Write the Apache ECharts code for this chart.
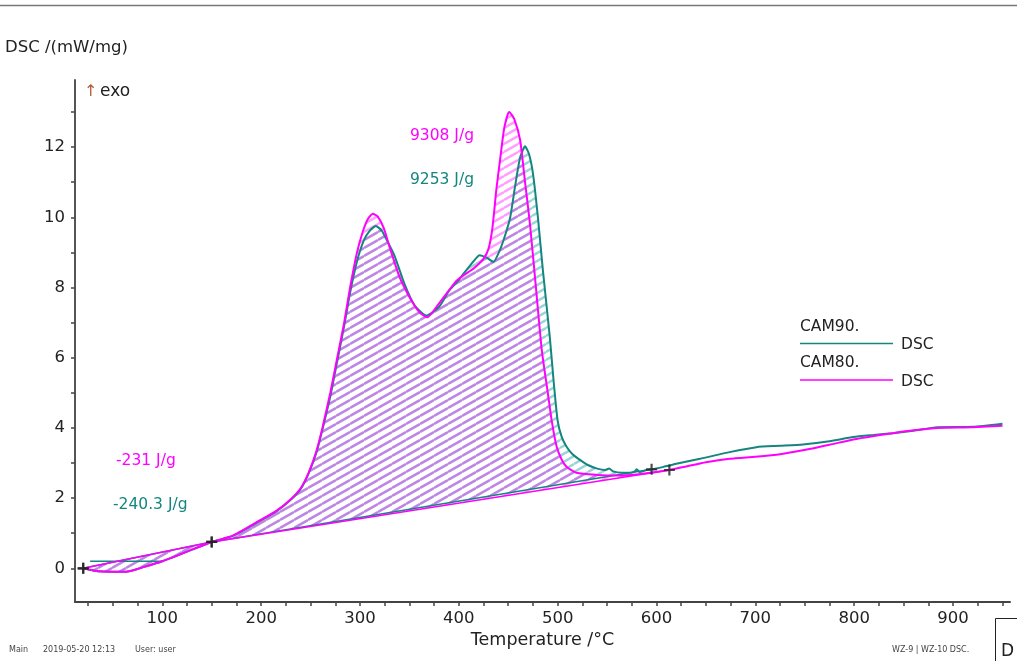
<!DOCTYPE html>
<html>
<head>
<meta charset="utf-8">
<script src="https://cdn.jsdelivr.net/npm/echarts@6/dist/echarts.min.js"></script>
<style>
  html, body { margin: 0; padding: 0; background: #fff; }
  #chart { width: 1017px; height: 661px; }
</style>
</head>
<body>
<div id="chart"></div>
<script>
// CAM80 (magenta) DSC curve, temperature /°C and DSC /(mW/mg)
const t80 = [20, 30, 40, 55, 65, 75, 85, 100, 115, 130, 150, 172, 199, 215, 230, 240, 248, 256, 262, 270, 277, 284,
  290, 297, 303, 308, 313, 318, 324, 330, 340, 350, 360, 368, 380, 390, 398, 405, 415, 425, 430, 434, 438, 442,
  446, 451, 456, 462, 467, 472, 478, 484, 490, 494, 499, 504, 509, 519, 540, 560, 580, 600, 613, 630,
  650, 674, 700, 725, 748, 775, 799, 820, 839, 860, 884, 920, 950];
const dsc80 = [0, -0.06, -0.09, -0.1, -0.09, -0.02, 0.07, 0.2, 0.36, 0.53, 0.75, 0.94, 1.37, 1.63, 1.97, 2.28, 2.72, 3.35, 4.0, 5.0, 6.0, 7.0,
  8.0, 9.0, 9.6, 9.95, 10.1, 10.02, 9.7, 9.15, 8.3, 7.73, 7.3, 7.15, 7.55, 7.92, 8.2, 8.35, 8.54, 8.82, 9.1, 9.7, 10.8, 11.7,
  12.55, 13.0, 12.8, 12.2, 11.0, 9.8, 8.0, 6.2, 5.0, 4.2, 3.46, 3.1, 2.89, 2.72, 2.66, 2.64, 2.67, 2.74, 2.8, 2.9,
  3.02, 3.12, 3.18, 3.25, 3.36, 3.52, 3.67, 3.77, 3.85, 3.93, 4.0, 4.02, 4.06];

// CAM90 (teal) DSC curve
const t90 = [20, 30, 40, 55, 65, 75, 85, 100, 115, 130, 150, 172, 199, 215, 230, 240, 248, 256, 262, 270, 277, 284,
  290, 297, 304, 310, 316, 322, 328, 335, 345, 355, 367, 380, 390, 398, 405, 415, 421, 428, 435, 442, 447, 452,
  457, 462, 467, 471, 475, 480, 485, 492, 496, 500, 504, 509, 515, 523, 530, 540, 548, 552, 556, 565,
  573, 578, 580, 583, 590, 595, 600, 607, 620, 644, 674, 701, 725, 748, 775, 799, 820, 839, 860, 884,
  920, 950];
const dsc90 = [0, -0.06, -0.09, -0.1, -0.09, -0.02, 0.07, 0.2, 0.36, 0.53, 0.75, 0.93, 1.35, 1.61, 1.95, 2.26, 2.7, 3.3, 3.95, 4.9, 5.9, 6.9,
  7.85, 8.75, 9.35, 9.62, 9.75, 9.62, 9.3, 8.9, 8.1, 7.5, 7.2, 7.45, 7.9, 8.15, 8.4, 8.75, 8.92, 8.85, 8.73, 9.1, 9.5, 10.0,
  10.9, 11.7, 12.02, 11.8, 11.24, 10.0, 8.5, 6.6, 5.3, 4.2, 3.75, 3.46, 3.25, 3.08, 2.95, 2.84, 2.8, 2.84, 2.76, 2.72,
  2.72, 2.76, 2.82, 2.74, 2.8, 2.82, 2.84, 2.89, 2.98, 3.12, 3.31, 3.45, 3.49, 3.53, 3.62, 3.74, 3.8, 3.85, 3.92, 4.02,
  4.03, 4.12];

// integration baselines (limit points)
const base80 = [[20, 0], [150, 0.75], [613, 2.8]];
const base90 = [[20, 0], [150, 0.75], [595, 2.82]];
const extraTeal = [[27, 0.2], [100, 0.2]];

const xTicks = [];
for (let t = 25; t <= 950; t += 25) xTicks.push(t);
const xLabels = [100, 200, 300, 400, 500, 600, 700, 800, 900];
const yTicks = [0, 1, 2, 3, 4, 5, 6, 7, 8, 9, 10, 11, 12, 13];
const yLabels = [0, 2, 4, 6, 8, 10, 12];

const MAG = '#ff00ff';
const TEAL = '#14857f';
const FONT = 'DejaVu Sans';

function hatch(color) {
  const c = document.createElement('canvas');
  c.width = 14; c.height = 8;
  const g = c.getContext('2d');
  g.strokeStyle = color;
  g.lineWidth = 2.4;
  [-8, 0, 8].forEach(dy => {
    g.beginPath();
    g.moveTo(0, 8 + dy);
    g.lineTo(14, dy);
    g.stroke();
  });
  return { image: c, repeat: 'repeat' };
}

// hatched area between a curve and its baseline, drawn through the axes
function hatchSeries(ts, vs, base, fill, z) {
  const lo = base[0][0], hi = base[base.length - 1][0];
  return {
    type: 'custom', z: z, silent: true,
    data: [[ts[0], vs[0]]],
    renderItem: function (params, api) {
      const pts = [];
      ts.forEach((t, i) => { if (t >= lo && t <= hi) pts.push(api.coord([t, vs[i]])); });
      for (let i = base.length - 1; i >= 0; i--) pts.push(api.coord(base[i]));
      return { type: 'polygon', shape: { points: pts }, style: { fill: fill, stroke: null } };
    }
  };
}

const pair = (ts, vs) => ts.map((t, i) => [t, vs[i]]);
const cross = 'path://M4,0H6V4H10V6H6V10H4V6H0V4H4Z';

const chart = echarts.init(document.getElementById('chart'));

chart.setOption({
  animation: false,
  backgroundColor: '#fff',
  grid: { left: 75, right: 7, top: 80, bottom: 59, outerBoundsMode: 'none' },
  xAxis: {
    type: 'value', min: 11.7, max: 957.6,
    name: 'Temperature /°C', nameLocation: 'middle', nameGap: 25,
    nameTextStyle: { fontFamily: FONT, fontSize: 17.5, color: '#222' },
    axisLine: { onZero: false, lineStyle: { color: '#444', width: 2 } },
    axisTick: { customValues: xTicks, length: 4, lineStyle: { color: '#444', width: 1.5 } },
    axisLabel: { customValues: xLabels, margin: 8, fontFamily: FONT, fontSize: 16.5, color: '#222' },
    splitLine: { show: false }
  },
  yAxis: {
    type: 'value', min: -0.96, max: 13.91,
    axisLine: { show: true, onZero: false, lineStyle: { color: '#555', width: 2 } },
    axisTick: { show: true, customValues: yTicks, length: 4, lineStyle: { color: '#444', width: 1.5 } },
    axisLabel: { customValues: yLabels, margin: 10, fontFamily: FONT, fontSize: 16.5, color: '#222' },
    splitLine: { show: false }
  },
  series: [
    hatchSeries(t90, dsc90, base90, hatch('rgba(0,150,150,0.4)'), 1),
    hatchSeries(t80, dsc80, base80, hatch('rgba(255,0,255,0.38)'), 2),
    // baselines
    { type: 'line', data: base90, symbol: 'none', lineStyle: { color: TEAL, width: 1.5 }, z: 3 },
    { type: 'line', data: extraTeal, symbol: 'none', lineStyle: { color: TEAL, width: 1.5 }, z: 3 },
    { type: 'line', data: base80, symbol: 'none', lineStyle: { color: MAG, width: 1.5 }, z: 4 },
    // curves
    { name: 'CAM90', type: 'line', data: pair(t90, dsc90), symbol: 'none', smooth: 0.2,
      lineStyle: { color: TEAL, width: 2 }, z: 5 },
    { name: 'CAM80', type: 'line', data: pair(t80, dsc80), symbol: 'none', smooth: 0.2,
      lineStyle: { color: MAG, width: 2 }, z: 6 },
    // limit markers
    { type: 'scatter', data: base80.concat(base90), symbol: cross, symbolSize: 11,
      itemStyle: { color: '#222' }, z: 7 }
  ],
  graphic: [
    { type: 'line', shape: { x1: 0, y1: 5.5, x2: 1017, y2: 5.5 }, style: { stroke: '#777', lineWidth: 1.5 } },
    { type: 'text', style: { x: 5, y: 48, text: 'DSC /(mW/mg)', font: '16.5px "DejaVu Sans"', fill: '#222', verticalAlign: 'middle' } },
    { type: 'text', style: { x: 84, y: 92, text: '↑', font: '16px "DejaVu Sans"', fill: '#b0603c', verticalAlign: 'middle' } },
    { type: 'text', style: { x: 100, y: 92, text: 'exo', font: '17px "DejaVu Sans"', fill: '#222', verticalAlign: 'middle' } },
    // enthalpy labels
    { type: 'text', style: { x: 410, y: 136, text: '9308 J/g', font: '15.5px "DejaVu Sans"', fill: MAG, verticalAlign: 'middle' } },
    { type: 'text', style: { x: 410, y: 180, text: '9253 J/g', font: '15.5px "DejaVu Sans"', fill: TEAL, verticalAlign: 'middle' } },
    { type: 'text', style: { x: 116, y: 461, text: '-231 J/g', font: '15.5px "DejaVu Sans"', fill: MAG, verticalAlign: 'middle' } },
    { type: 'text', style: { x: 113, y: 505, text: '-240.3 J/g', font: '15.5px "DejaVu Sans"', fill: TEAL, verticalAlign: 'middle' } },
    // legend
    { type: 'text', style: { x: 800, y: 327, text: 'CAM90.', font: '15.5px "DejaVu Sans"', fill: '#222', verticalAlign: 'middle' } },
    { type: 'line', shape: { x1: 800, y1: 343.5, x2: 893, y2: 343.5 }, style: { stroke: TEAL, lineWidth: 1.5 } },
    { type: 'text', style: { x: 901, y: 345, text: 'DSC', font: '15.5px "DejaVu Sans"', fill: '#222', verticalAlign: 'middle' } },
    { type: 'text', style: { x: 800, y: 363, text: 'CAM80.', font: '15.5px "DejaVu Sans"', fill: '#222', verticalAlign: 'middle' } },
    { type: 'line', shape: { x1: 800, y1: 380, x2: 893, y2: 380 }, style: { stroke: MAG, lineWidth: 1.5 } },
    { type: 'text', style: { x: 901, y: 381.5, text: 'DSC', font: '15.5px "DejaVu Sans"', fill: '#222', verticalAlign: 'middle' } },
    // footer
    { type: 'text', style: { x: 9, y: 650, text: 'Main', font: '8px "DejaVu Sans"', fill: '#444', verticalAlign: 'middle' } },
    { type: 'text', style: { x: 43, y: 650, text: '2019-05-20 12:13', font: '8px "DejaVu Sans"', fill: '#444', verticalAlign: 'middle' } },
    { type: 'text', style: { x: 135, y: 650, text: 'User: user', font: '8px "DejaVu Sans"', fill: '#444', verticalAlign: 'middle' } },
    { type: 'text', style: { x: 892, y: 650, text: 'WZ-9 | WZ-10 DSC.', font: '8px "DejaVu Sans"', fill: '#444', verticalAlign: 'middle' } },
    { type: 'polyline', shape: { points: [[995.5, 661], [995.5, 618.5], [1017, 618.5]] }, style: { stroke: '#222', lineWidth: 1, fill: null } },
    { type: 'text', style: { x: 1001, y: 652, text: 'D', font: '17px "DejaVu Sans"', fill: '#222', verticalAlign: 'middle' } }
  ]
});
</script>
</body>
</html>
